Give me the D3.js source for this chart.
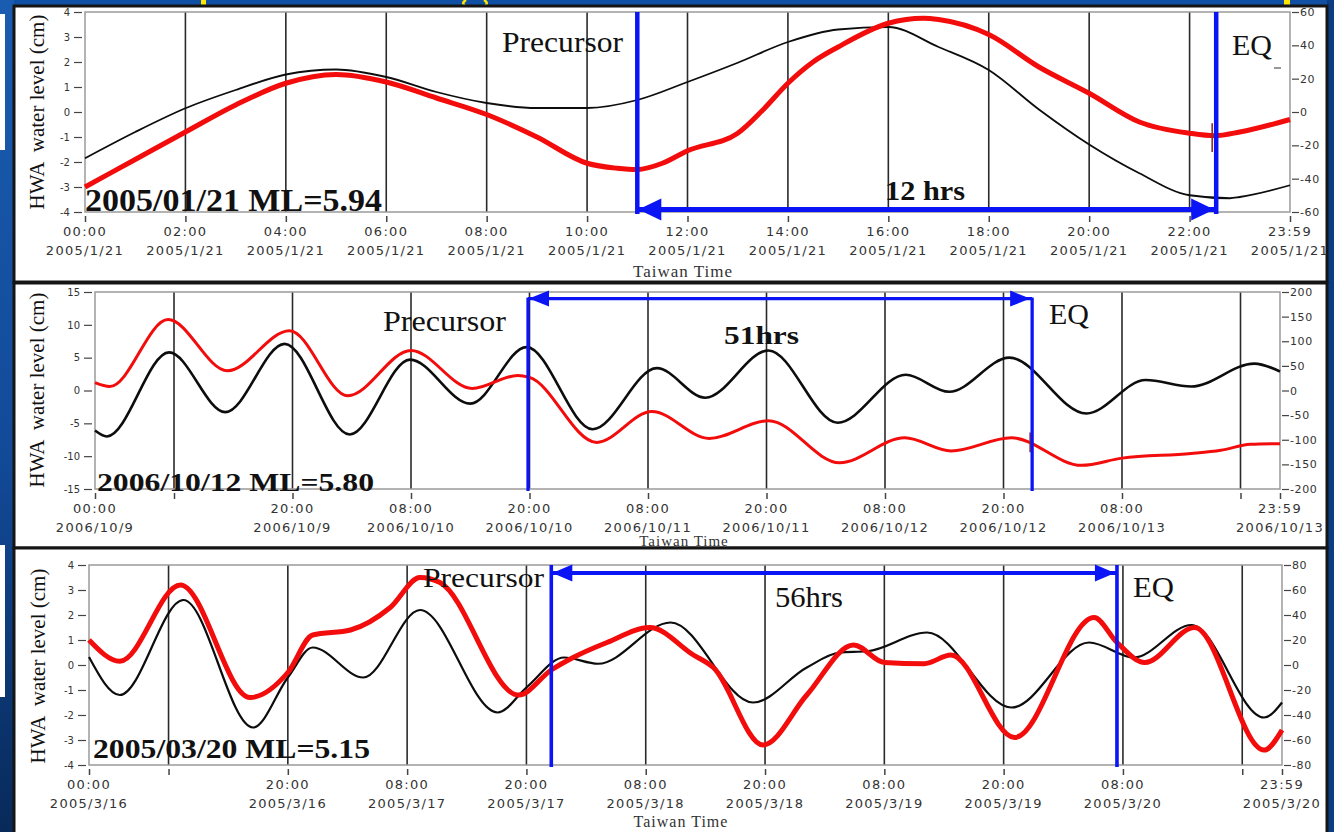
<!DOCTYPE html>
<html>
<head>
<meta charset="utf-8">
<script src="https://cdn.jsdelivr.net/npm/d3@7"></script>
<style>
  body { margin: 0; background: #1352a6; overflow: hidden; }
  svg { display: block; }
  .tick text { font-family: "DejaVu Sans", Verdana, sans-serif; fill: #333; }
  .serif { font-family: "Liberation Serif", "Times New Roman", serif; fill: #111; }
</style>
</head>
<body>
<svg id="chart" width="1334" height="832"></svg>
<script>
// values: [hour, cm]

// panel 1 : 2005/01/21, 24 hours
const p1Tide = [[0,-1.85],[1,-0.8],[2,0.15],[3,0.88],[4,1.5],[5,1.7],[6,1.4],[7,0.8],[8,0.36],[9,0.16],[10,0.16],
  [11,0.48],[12,1.2],[13,1.97],[14,2.8],[15,3.3],[16,3.4],[17,2.6],[18,1.68],[19,0.1],[20,-1.3],[21,-2.45],
  [22,-3.33],[22.8,-3.45],[23,-3.4],[24,-2.93]];
const p1Water = [[0,-3.0],[1,-1.9],[2,-0.8],[3,0.28],[4,1.15],[5,1.5],[6,1.2],[7,0.56],[8,-0.1],[9,-1.0],[10,-2.05],
  [10.6,-2.25],[11,-2.3],[11.5,-2.05],[12,-1.55],[13,-0.85],[13.5,0.08],[14,1.15],[14.5,2.0],[15,2.6],[16,3.55],
  [16.7,3.75],[17,3.7],[18,3.1],[19,1.8],[20,0.75],[21,-0.4],[22,-0.85],[22.5,-0.95],[23,-0.8],[24,-0.3]];
const p1TickHours = [0,2,4,6,8,10,12,14,16,18,20,22,24];
const p1MinorHours = [];
const p1GridHours = [2,4,6,8,10,12,14,16,18,20,22];
const p1TickTimes = ['00:00','02:00','04:00','06:00','08:00','10:00','12:00','14:00','16:00','18:00','20:00','22:00','23:59'];
const p1TickDates = ['2005/1/21','2005/1/21','2005/1/21','2005/1/21','2005/1/21','2005/1/21','2005/1/21',
  '2005/1/21','2005/1/21','2005/1/21','2005/1/21','2005/1/21','2005/1/21'];
const p1Events = { precursor: 11.0, eq: 22.53, arrowAt: -3.9, spike: [22.45, -0.45, -1.6] };

// panel 2 : 2006/10/9 - 2006/10/13, 120 hours
const p2Tide = [[0,-6.1],[1.2,-7.0],[7.5,5.8],[13.2,-3.3],[19.2,7.1],[25.8,-6.7],[31.9,4.7],[38,-2.0],[43.7,6.6],
  [50.4,-5.9],[56.9,3.4],[61.8,-1.1],[68.2,6.1],[75.2,-4.9],[82.1,2.4],[86.5,-0.2],[92.6,5.0],[100.4,-3.5],
  [106.4,1.6],[111,0.6],[117.4,4.1],[120,2.9]];
const p2Water = [[0,1.2],[1.5,0.6],[7.4,10.8],[13.4,3.0],[19.7,9.1],[25.6,-0.8],[32,6.1],[38.2,0.3],[42.8,2.3],
  [44,2.0],[50.8,-7.9],[56.4,-3.2],[62.2,-7.3],[68.2,-4.6],[75.4,-11.0],[82,-7.2],[86.7,-9.2],[92.8,-7.2],
  [99.9,-11.4],[104,-10.3],[111,-9.6],[114,-9.1],[117,-8.2],[120,-8.1]];
const p2TickHours = [0,20,32,44,56,68,80,92,104,120];
const p2MinorHours = [8,116];
const p2GridHours = [8,20,32,44,56,68,80,92,104,116];
const p2TickTimes = ['00:00','20:00','08:00','20:00','08:00','20:00','08:00','20:00','08:00','23:59'];
const p2TickDates = ['2006/10/9','2006/10/9','2006/10/10','2006/10/10','2006/10/11','2006/10/11',
  '2006/10/12','2006/10/12','2006/10/13','2006/10/13'];
const p2Events = { precursor: 43.85, eq: 94.9, arrowAt: 14.0, spike: [94.7, -6.4, -9.4] };

// panel 3 : 2005/3/16 - 2005/3/20, 120 hours
const p3Tide = [[0,0.32],[3.1,-1.2],[9.5,2.6],[16.5,-2.5],[20,-0.5],[22.5,0.7],[27.6,-0.5],[33.3,2.2],[41.1,-1.9],
  [44,-0.9],[47.8,0.3],[51.2,0.05],[58.5,1.7],[66.8,-1.5],[72.2,-0.1],[75.5,0.5],[78.3,0.55],[84.3,1.3],
  [92.8,-1.7],[100.6,0.9],[105.1,0.3],[110.9,1.6],[118.2,-2.1],[120,-1.5]];
const p3Water = [[0,1.0],[3.1,0.15],[9.2,3.2],[16.2,-1.3],[20,-0.3],[22.5,1.2],[26.3,1.4],[30.3,2.3],[33.3,3.5],
  [35.3,3.3],[43.2,-1.2],[46.5,-0.2],[48.7,0.3],[52.1,0.9],[56.4,1.5],[60.8,0.4],[62.8,-0.1],[67.8,-3.2],
  [72.2,-1.2],[76.9,0.8],[80,0.1],[84,0.05],[86.7,0.4],[93.1,-2.9],[101.1,1.9],[103.4,0.9],[106.2,0.1],
  [111.2,1.5],[118.2,-3.4],[120,-2.6]];
const p3TickHours = [0,20,32,44,56,68,80,92,104,120];
const p3MinorHours = [8,116];
const p3GridHours = [8,20,32,44,56,68,80,92,104,116];
const p3TickTimes = ['00:00','20:00','08:00','20:00','08:00','20:00','08:00','20:00','08:00','23:59'];
const p3TickDates = ['2005/3/16','2005/3/16','2005/3/17','2005/3/17','2005/3/18','2005/3/18',
  '2005/3/19','2005/3/19','2005/3/20','2005/3/20'];
const p3Events = { precursor: 46.5, eq: 103.4, arrowAt: 3.68, spike: null };

const svg = d3.select('#chart');

// slide background around the three screenshots
const defs = svg.append('defs');
const grad = defs.append('linearGradient').attr('id', 'leftEdge').attr('x1', 0).attr('y1', 0).attr('x2', 0).attr('y2', 1);
grad.append('stop').attr('offset', '0%').attr('stop-color', '#1a5cb0');
grad.append('stop').attr('offset', '55%').attr('stop-color', '#124a98');
grad.append('stop').attr('offset', '100%').attr('stop-color', '#082a5a');
svg.append('rect').attr('width', 1334).attr('height', 832).attr('fill', '#1050a4');
svg.append('rect').attr('width', 14).attr('height', 832).attr('fill', 'url(#leftEdge)');
svg.append('rect').attr('x', 1327).attr('width', 7).attr('height', 832).attr('fill', '#0c3c82');
svg.append('rect').attr('x', 0).attr('y', 14).attr('width', 5).attr('height', 136).attr('fill', '#fff');
svg.append('rect').attr('x', 0).attr('y', 545).attr('width', 5).attr('height', 152).attr('fill', '#fff');
// yellow bits of the slide title peeking in at the top
svg.append('rect').attr('x', 201).attr('y', 0).attr('width', 5).attr('height', 6).attr('fill', '#ffe600');
svg.append('rect').attr('x', 1284).attr('y', 0).attr('width', 6).attr('height', 5).attr('fill', '#ffe600');
svg.append('path').attr('d', 'M466,0 Q461,3 465,6 M484,0 Q489,3 485,6')
  .attr('fill', 'none').attr('stroke', '#ffe600').attr('stroke-width', 2.5);

const panels = [
  { box: [14, 6, 1313, 276], left: 85, right: 1290, top: 12, bottom: 212, span: 24,
    yDom: [-4, 4], yStep: 1, rDom: [-60, 60], rStep: 20,
    tide: p1Tide, water: p1Water, ticks: p1TickHours, minor: p1MinorHours, grid: p1GridHours,
    times: p1TickTimes, dates: p1TickDates, ev: p1Events,
    tideW: 1.8, waterW: 5, blueW: 4.5, arrowW: 5, head: [23, 11], vRange: 'plot',
    yTitle: [44, 112], xTitle: [683, 277, 17],
    title: ['2005/01/21 ML=5.94', 85, 211, 32, 297],
    texts: [['Precursor', 502, 52, 29, 121, false], ['EQ', 1232, 55, 29, 40, false], ['12 hrs', 885, 200, 28, 80, true]],
    eqMark: true },
  { box: [14, 283, 1313, 265], left: 95, right: 1280, top: 292, bottom: 489, span: 120,
    yDom: [-15, 15], yStep: 5, rDom: [-200, 200], rStep: 50,
    tide: p2Tide, water: p2Water, ticks: p2TickHours, minor: p2MinorHours, grid: p2GridHours,
    times: p2TickTimes, dates: p2TickDates, ev: p2Events,
    tideW: 2.6, waterW: 3, blueW: 3.3, arrowW: 3.3, head: [20, 8], vRange: 'arrow',
    yTitle: [44, 390], xTitle: [684, 546, 15],
    title: ['2006/10/12 ML=5.80', 97, 491, 26, 277],
    texts: [['Precursor', 383, 331, 29, 123, false], ['EQ', 1049, 324, 29, 40, false], ['51hrs', 724, 344, 26, 75, true]],
    eqMark: false },
  { box: [14, 548, 1313, 300], left: 89, right: 1282, top: 565, bottom: 765, span: 120,
    yDom: [-4, 4], yStep: 1, rDom: [-80, 80], rStep: 20,
    tide: p3Tide, water: p3Water, ticks: p3TickHours, minor: p3MinorHours, grid: p3GridHours,
    times: p3TickTimes, dates: p3TickDates, ev: p3Events,
    tideW: 2.2, waterW: 5, blueW: 3.6, arrowW: 4, head: [20, 8.5], vRange: 'plot',
    yTitle: [45, 666], xTitle: [681, 827, 16],
    title: ['2005/03/20 ML=5.15', 93, 758, 28, 277],
    texts: [['Precursor', 423, 587, 28, 121, false], ['56hrs', 775, 607, 29, 68, false], ['EQ', 1133, 597, 29, 41, false]],
    eqMark: false }
];

panels.forEach(drawPanel);

function drawPanel(p) {
  const g = svg.append('g');
  const [bx, by, bw, bh] = p.box;
  g.append('rect').attr('x', bx).attr('y', by).attr('width', bw).attr('height', bh)
    .attr('fill', '#fff').attr('stroke', '#151515').attr('stroke-width', 3);

  const x = d3.scaleLinear().domain([0, p.span]).range([p.left, p.right]);
  const y = d3.scaleLinear().domain(p.yDom).range([p.bottom, p.top]);
  const yR = d3.scaleLinear().domain(p.rDom).range([p.bottom, p.top]);

  // vertical grid lines
  g.selectAll('.grid').data(p.grid).join('line')
    .attr('x1', d => x(d)).attr('x2', d => x(d))
    .attr('y1', p.top).attr('y2', p.bottom)
    .attr('stroke', '#2a2a2a').attr('stroke-width', 1.6);

  // plot frame
  g.append('rect').attr('x', p.left).attr('y', p.top)
    .attr('width', p.right - p.left).attr('height', p.bottom - p.top)
    .attr('fill', 'none').attr('stroke', '#9a9a9a').attr('stroke-width', 1.5);

  // left axis
  const yl = g.append('g').attr('transform', `translate(${p.left - 3},0)`)
    .call(d3.axisLeft(y).tickValues(d3.range(p.yDom[0], p.yDom[1] + 0.001, p.yStep))
      .tickSize(8).tickPadding(4).tickFormat(d => String(d)));
  yl.select('.domain').remove();
  yl.selectAll('.tick line').attr('stroke', '#444').attr('stroke-width', 1.2);
  yl.selectAll('.tick text').style('font-size', '10px');

  // right axis
  const yr = g.append('g').attr('transform', `translate(${p.right + 2},0)`)
    .call(d3.axisRight(yR).tickValues(d3.range(p.rDom[0], p.rDom[1] + 0.001, p.rStep))
      .tickSize(7).tickPadding(1).tickFormat(d => String(d)));
  yr.select('.domain').remove();
  yr.selectAll('.tick line').attr('stroke', '#444').attr('stroke-width', 1.2);
  yr.selectAll('.tick text').style('font-size', '11px').style('letter-spacing', '0.6px');

  // bottom axis: tick marks, then two-line labels
  const xa = g.append('g').attr('transform', `translate(0,${p.bottom + 4})`)
    .call(d3.axisBottom(x).tickValues(p.ticks.concat(p.minor)).tickSize(6).tickFormat(''));
  xa.select('.domain').remove();
  xa.selectAll('.tick line').attr('stroke', '#444').attr('stroke-width', 1.5);
  const lbl = g.selectAll('.xlbl').data(p.ticks).join('text')
    .attr('text-anchor', 'middle')
    .style('font-family', '"DejaVu Sans", Verdana, sans-serif')
    .style('font-size', '13px').style('letter-spacing', '1.3px').style('fill', '#333');
  lbl.append('tspan').attr('x', d => x(d)).attr('y', p.bottom + 24).text((d, i) => p.times[i]);
  lbl.append('tspan').attr('x', d => x(d)).attr('y', p.bottom + 43).text((d, i) => p.dates[i]);

  const [ttx, tty, tfs] = p.xTitle;
  g.append('text').attr('class', 'serif').attr('x', ttx).attr('y', tty)
    .attr('text-anchor', 'middle').style('font-size', tfs + 'px').style('letter-spacing', '1px')
    .style('fill', '#333').text('Taiwan Time');

  g.append('text').attr('class', 'serif')
    .attr('transform', `translate(${p.yTitle[0]},${p.yTitle[1]}) rotate(-90)`)
    .attr('text-anchor', 'middle').style('font-size', '21px').style('white-space', 'pre')
    .text('HWA  water level (cm)');

  // series
  const line = d3.line().x(d => x(d[0])).y(d => y(d[1])).curve(d3.curveMonotoneX);
  g.append('path').datum(p.tide).attr('d', line)
    .attr('fill', 'none').attr('stroke', '#0d0d0d').attr('stroke-width', p.tideW);
  g.append('path').datum(p.water).attr('d', line)
    .attr('fill', 'none').attr('stroke', '#f20c0c').attr('stroke-width', p.waterW)
    .attr('stroke-linejoin', 'round');

  if (p.ev.spike) {
    const [h, a, b] = p.ev.spike;
    g.append('line').attr('x1', x(h)).attr('x2', x(h)).attr('y1', y(a)).attr('y2', y(b))
      .attr('stroke', '#8a3030').attr('stroke-width', 1.6);
  }

  // precursor / earthquake markers
  const blue = '#0b14f5';
  const x0 = x(p.ev.precursor), x1 = x(p.ev.eq), ay = y(p.ev.arrowAt);
  const vTop = p.vRange === 'plot' ? p.top : ay - 1;
  const vBot = p.bottom + 2;
  [x0, x1].forEach(xx => g.append('line').attr('x1', xx).attr('x2', xx).attr('y1', vTop).attr('y2', vBot)
    .attr('stroke', blue).attr('stroke-width', p.blueW));
  g.append('line').attr('x1', x0).attr('x2', x1).attr('y1', ay).attr('y2', ay)
    .attr('stroke', blue).attr('stroke-width', p.arrowW);
  const [hl, hh] = p.head;
  g.append('path').attr('fill', blue)
    .attr('d', `M${x0 + 1},${ay} L${x0 + 1 + hl},${ay - hh} L${x0 + 1 + hl},${ay + hh} Z`);
  g.append('path').attr('fill', blue)
    .attr('d', `M${x1 - 2},${ay} L${x1 - 2 - hl},${ay - hh} L${x1 - 2 - hl},${ay + hh} Z`);

  // labels
  p.texts.forEach(([t, tx, ty, fs, w, bold]) => {
    g.append('text').attr('class', 'serif').attr('x', tx).attr('y', ty)
      .attr('textLength', w).attr('lengthAdjust', 'spacingAndGlyphs')
      .style('font-size', fs + 'px').style('font-weight', bold ? 'bold' : 'normal').text(t);
  });
  if (p.eqMark) {
    g.append('line').attr('x1', 1274).attr('x2', 1281).attr('y1', 68).attr('y2', 68)
      .attr('stroke', '#333').attr('stroke-width', 1);
  }
  const [tt, tx, ty, fs, w] = p.title;
  g.append('text').attr('class', 'serif').attr('x', tx).attr('y', ty)
    .attr('textLength', w).attr('lengthAdjust', 'spacingAndGlyphs')
    .style('font-size', fs + 'px').style('font-weight', 'bold').text(tt);
}
</script>
</body>
</html>
